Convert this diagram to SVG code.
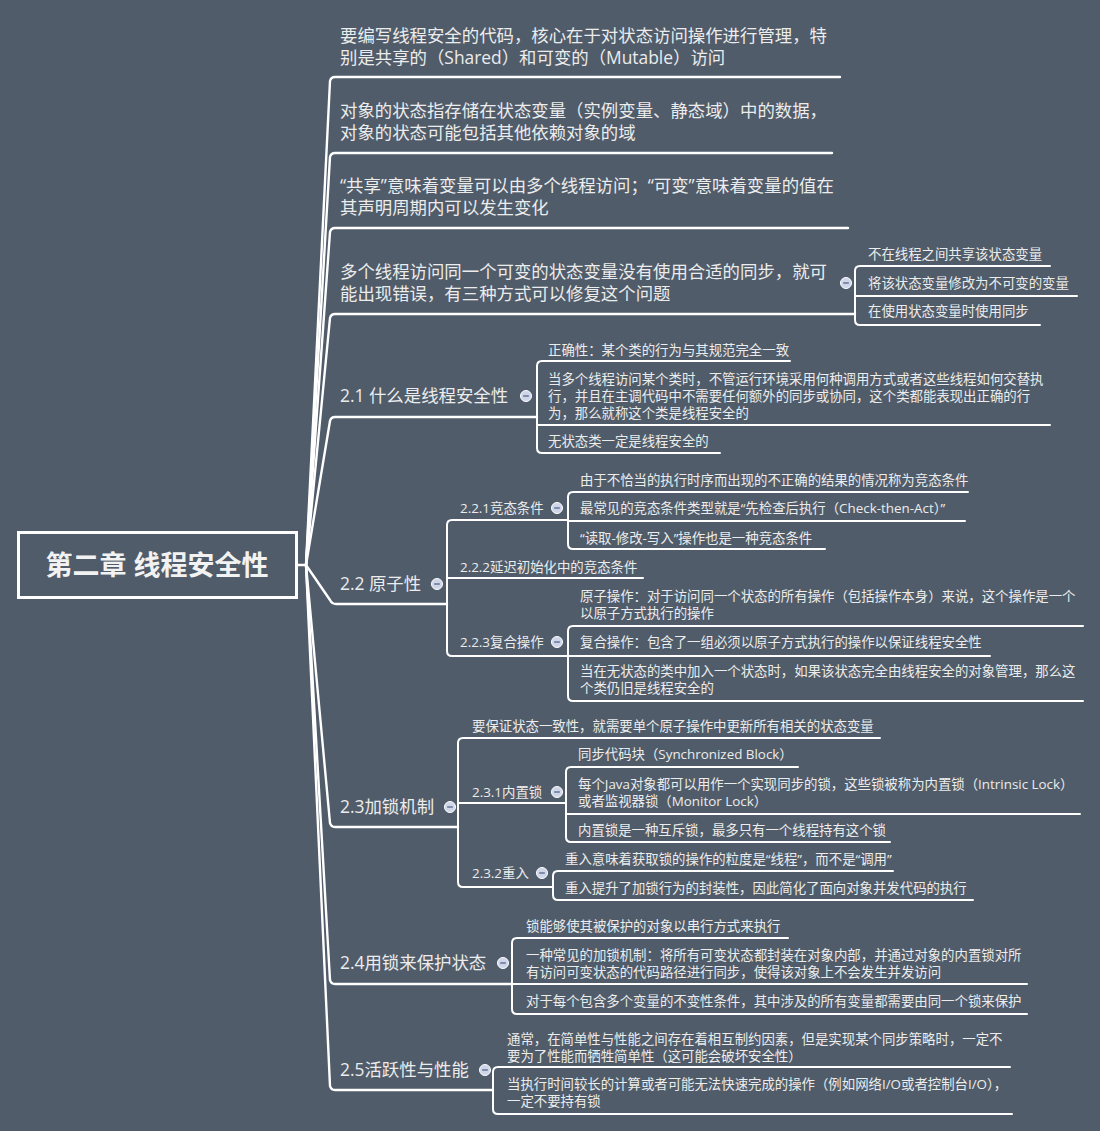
<svg xmlns="http://www.w3.org/2000/svg" width="1100" height="1131" viewBox="0 0 1100 1131">
<style>
text{font-family:"Open Sans","Noto Sans CJK SC",sans-serif;fill:#ececec}
.t1{font-size:17.4px}
.t2{font-size:13.4px}
.root{font-size:27px;font-weight:bold;fill:#f2f2f2}
.main{fill:none;stroke:#ffffff;stroke-width:2.4;stroke-linejoin:round;stroke-linecap:round}
.sub{fill:none;stroke:#ffffff;stroke-width:2;stroke-linejoin:round;stroke-linecap:round}
.btn circle{fill:#cfd6ea;stroke:#ffffff;stroke-width:1}
.btn line{stroke:#5d6d8c;stroke-width:1.4}
</style>
<defs>
<g id="b" class="btn"><circle cx="0" cy="0" r="5.5"/><line x1="-2.8" y1="0" x2="2.8" y2="0"/></g>
</defs>
<rect x="0" y="0" width="1100" height="1131" fill="#505c6a"/>

<g id="connectors">
<path class="main" d="M297,565 H306 L330,81 Q331,77 335,77 H840"/>
<path class="main" d="M306,565 L330,157 Q331,153 335,153 H832"/>
<path class="main" d="M306,565 L330,232 Q331,228 335,228 H848"/>
<path class="main" d="M306,565 L330,318 Q331,314 335,314 H855"/>
<path class="main" d="M306,565 L330,421 Q331,417 335,417 H537"/>
<path class="main" d="M306,565 L330,600 Q332,604 336,604 H447"/>
<path class="main" d="M306,565 L330,823 Q331,827 335,827 H458"/>
<path class="main" d="M306,565 L330,980 Q331,984 335,984 H512"/>
<path class="main" d="M306,565 L330,1086 Q331,1090 335,1090 H493"/>

<path class="sub" d="M1050,266 H860 Q855,266 855,271 V320 Q855,325 860,325 H1040"/>
<path class="sub" d="M855,296 H1077"/>

<path class="sub" d="M790,361 H542 Q537,361 537,366 V448 Q537,453 542,453 H720"/>
<path class="sub" d="M537,425 H1050"/>

<path class="sub" d="M568,520 H452 Q447,520 447,525 V651 Q447,656 452,656 H568"/>
<path class="sub" d="M447,578 H643"/>
<path class="sub" d="M968,492 H573 Q568,492 568,497 V544 Q568,549 573,549 H825"/>
<path class="sub" d="M568,521 H965"/>
<path class="sub" d="M1083,626 H573 Q568,626 568,631 V696 Q568,701 573,701 H1083"/>
<path class="sub" d="M568,656 H990"/>

<path class="sub" d="M880,738 H463 Q458,738 458,743 V882 Q458,887 463,887 H553"/>
<path class="sub" d="M458,803 H566"/>
<path class="sub" d="M798,767 H571 Q566,767 566,772 V837 Q566,842 571,842 H890"/>
<path class="sub" d="M566,814 H1080"/>
<path class="sub" d="M893,871 H558 Q553,871 553,876 V895 Q553,900 558,900 H973"/>

<path class="sub" d="M788,938 H517 Q512,938 512,943 V1009 Q512,1014 517,1014 H1027"/>
<path class="sub" d="M512,984 H1027"/>

<path class="sub" d="M1010,1067 H498 Q493,1067 493,1072 V1109 Q493,1114 498,1114 H1012"/>
</g>

<g id="root">
<rect x="18.5" y="532.5" width="278" height="65" fill="#505c6a" stroke="#ffffff" stroke-width="3"/>
<text class="root" x="157" y="575" text-anchor="middle">第二章 线程安全性</text>
</g>

<g id="n1"><text class="t1"><tspan x="340" y="42">要编写线程安全的代码，核心在于对状态访问操作进行管理，特</tspan><tspan x="340" y="64">别是共享的（Shared）和可变的（Mutable）访问</tspan></text></g>
<g id="n2"><text class="t1"><tspan x="340" y="117">对象的状态指存储在状态变量（实例变量、静态域）中的数据，</tspan><tspan x="340" y="139">对象的状态可能包括其他依赖对象的域</tspan></text></g>
<g id="n3"><text class="t1"><tspan x="340" y="192">“共享”意味着变量可以由多个线程访问；“可变”意味着变量的值在</tspan><tspan x="340" y="214">其声明周期内可以发生变化</tspan></text></g>
<g id="n4"><text class="t1"><tspan x="340" y="278">多个线程访问同一个可变的状态变量没有使用合适的同步，就可</tspan><tspan x="340" y="300">能出现错误，有三种方式可以修复这个问题</tspan></text><use href="#b" x="846" y="283"/></g>
<g id="n4a"><text class="t2" x="868" y="259">不在线程之间共享该状态变量</text></g>
<g id="n4b"><text class="t2" x="868" y="288">将该状态变量修改为不可变的变量</text></g>
<g id="n4c"><text class="t2" x="868" y="316">在使用状态变量时使用同步</text></g>

<g id="n21"><text class="t1" x="340" y="402">2.1 什么是线程安全性</text><use href="#b" x="526" y="396"/></g>
<g id="n21a"><text class="t2" x="548" y="355">正确性：某个类的行为与其规范完全一致</text></g>
<g id="n21b"><text class="t2"><tspan x="548" y="384">当多个线程访问某个类时，不管运行环境采用何种调用方式或者这些线程如何交替执</tspan><tspan x="548" y="401">行，并且在主调代码中不需要任何额外的同步或协同，这个类都能表现出正确的行</tspan><tspan x="548" y="418">为，那么就称这个类是线程安全的</tspan></text></g>
<g id="n21c"><text class="t2" x="548" y="446">无状态类一定是线程安全的</text></g>

<g id="n22"><text class="t1" x="340" y="590">2.2 原子性</text><use href="#b" x="437" y="584"/></g>
<g id="n221"><text class="t2" x="460" y="513">2.2.1竞态条件</text><use href="#b" x="557" y="508"/></g>
<g id="n221a"><text class="t2" x="580" y="485">由于不恰当的执行时序而出现的不正确的结果的情况称为竞态条件</text></g>
<g id="n221b"><text class="t2" x="580" y="513">最常见的竞态条件类型就是“先检查后执行（Check-then-Act）”</text></g>
<g id="n221c"><text class="t2" x="580" y="543">“读取-修改-写入”操作也是一种竞态条件</text></g>
<g id="n222"><text class="t2" x="460" y="572">2.2.2延迟初始化中的竞态条件</text></g>
<g id="n223"><text class="t2" x="460" y="647">2.2.3复合操作</text><use href="#b" x="557" y="642"/></g>
<g id="n223a"><text class="t2"><tspan x="580" y="601">原子操作：对于访问同一个状态的所有操作（包括操作本身）来说，这个操作是一个</tspan><tspan x="580" y="618">以原子方式执行的操作</tspan></text></g>
<g id="n223b"><text class="t2" x="580" y="647">复合操作：包含了一组必须以原子方式执行的操作以保证线程安全性</text></g>
<g id="n223c"><text class="t2"><tspan x="580" y="676">当在无状态的类中加入一个状态时，如果该状态完全由线程安全的对象管理，那么这</tspan><tspan x="580" y="693">个类仍旧是线程安全的</tspan></text></g>

<g id="n23"><text class="t1" x="340" y="813">2.3加锁机制</text><use href="#b" x="450" y="807"/></g>
<g id="n23a"><text class="t2" x="472" y="731">要保证状态一致性，就需要单个原子操作中更新所有相关的状态变量</text></g>
<g id="n231"><text class="t2" x="472" y="797">2.3.1内置锁</text><use href="#b" x="557" y="792"/></g>
<g id="n231a"><text class="t2" x="578" y="759">同步代码块（Synchronized Block）</text></g>
<g id="n231b"><text class="t2"><tspan x="578" y="789">每个Java对象都可以用作一个实现同步的锁，这些锁被称为内置锁（Intrinsic Lock）</tspan><tspan x="578" y="806">或者监视器锁（Monitor Lock）</tspan></text></g>
<g id="n231c"><text class="t2" x="578" y="835">内置锁是一种互斥锁，最多只有一个线程持有这个锁</text></g>
<g id="n232"><text class="t2" x="472" y="878">2.3.2重入</text><use href="#b" x="542" y="873"/></g>
<g id="n232a"><text class="t2" x="565" y="864">重入意味着获取锁的操作的粒度是“线程”，而不是“调用”</text></g>
<g id="n232b"><text class="t2" x="565" y="893">重入提升了加锁行为的封装性，因此简化了面向对象并发代码的执行</text></g>

<g id="n24"><text class="t1" x="340" y="969">2.4用锁来保护状态</text><use href="#b" x="503" y="963"/></g>
<g id="n24a"><text class="t2" x="526" y="931">锁能够使其被保护的对象以串行方式来执行</text></g>
<g id="n24b"><text class="t2"><tspan x="526" y="960">一种常见的加锁机制：将所有可变状态都封装在对象内部，并通过对象的内置锁对所</tspan><tspan x="526" y="977">有访问可变状态的代码路径进行同步，使得该对象上不会发生并发访问</tspan></text></g>
<g id="n24c"><text class="t2" x="526" y="1006">对于每个包含多个变量的不变性条件，其中涉及的所有变量都需要由同一个锁来保护</text></g>

<g id="n25"><text class="t1" x="340" y="1076">2.5活跃性与性能</text><use href="#b" x="485" y="1070"/></g>
<g id="n25a"><text class="t2"><tspan x="507" y="1044">通常，在简单性与性能之间存在着相互制约因素，但是实现某个同步策略时，一定不</tspan><tspan x="507" y="1061">要为了性能而牺牲简单性（这可能会破坏安全性）</tspan></text></g>
<g id="n25b"><text class="t2"><tspan x="507" y="1089">当执行时间较长的计算或者可能无法快速完成的操作（例如网络I/O或者控制台I/O），</tspan><tspan x="507" y="1106">一定不要持有锁</tspan></text></g>
</svg>
